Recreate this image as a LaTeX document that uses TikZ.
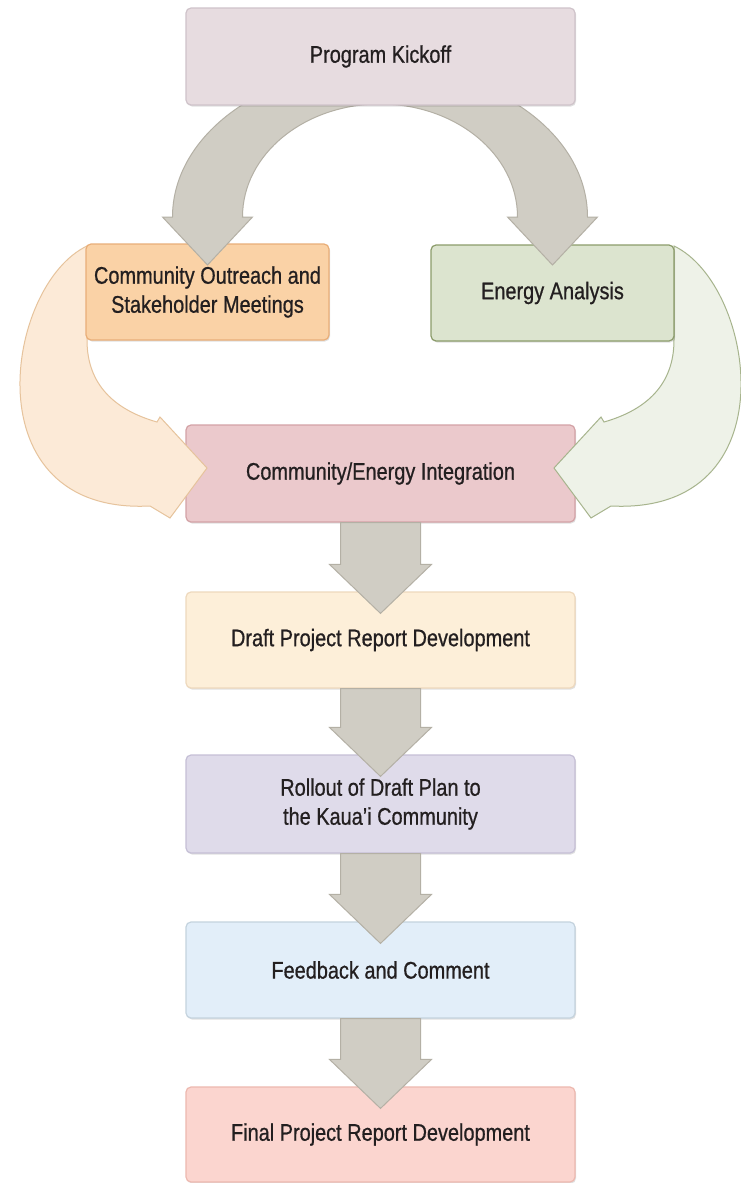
\documentclass[tikz,border=0pt]{standalone}
\usepackage{fontspec}
\setmainfont{Liberation Sans}[FakeStretch=0.83,FakeBold=0.7]
\usetikzlibrary{calc,shadows}
\pgfdeclarelayer{bg}
\pgfdeclarelayer{low}
\pgfdeclarelayer{sidel}
\pgfdeclarelayer{top}
\pgfsetlayers{bg,low,sidel,main,top}
\definecolor{txt}{HTML}{231F20}
\definecolor{kickF}{HTML}{E7DCE0}\definecolor{kickD}{HTML}{CFC3CA}
\definecolor{outF}{HTML}{FAD2A6}\definecolor{outD}{HTML}{E9AE78}
\definecolor{enF}{HTML}{DCE4CF}\definecolor{enD}{HTML}{8C9C6B}
\definecolor{intF}{HTML}{EBC9CC}\definecolor{intD}{HTML}{D3A2A6}
\definecolor{drF}{HTML}{FDEFD9}\definecolor{drD}{HTML}{EED9BD}
\definecolor{roF}{HTML}{DFDBEA}\definecolor{roD}{HTML}{C5BFD6}
\definecolor{fbF}{HTML}{E2EEF9}\definecolor{fbD}{HTML}{C4D3DE}
\definecolor{fiF}{HTML}{FBD5CF}\definecolor{fiD}{HTML}{EDB8AF}
\definecolor{grF}{HTML}{D0CDC4}\definecolor{grD}{HTML}{B4B0A5}
\definecolor{lsF}{HTML}{FCEAD7}\definecolor{lsD}{HTML}{E6C39C}
\definecolor{rsF}{HTML}{EEF2E8}\definecolor{rsD}{HTML}{A7B48D}
\tikzset{
  box/.style={rounded corners=5pt, line width=1.2pt, minimum width=389pt,
    minimum height=97pt, inner sep=0pt, align=center, text=txt,
    font=\fontsize{24}{29}\selectfont,
    drop shadow={shadow xshift=1pt, shadow yshift=-1.5pt, fill=black, opacity=.12}},
  smallbox/.style={box, minimum width=243pt, minimum height=96pt},
  garrow/.style={fill=grF, draw=grD, line width=1pt, line join=miter},
  lside/.style={fill=lsF, draw=lsD, line width=1pt, line join=miter},
  rside/.style={fill=rsF, draw=rsD, line width=1pt, line join=miter}
}
\newcommand\varrow[2]{%
  \draw[garrow] ($(#1.south)+(-40,0)$) -- ($(#2.north)+(-40,27)$)
    -- ($(#2.north)+(-51,27)$) -- ($(#2.north)+(0,-22)$)
    -- ($(#2.north)+(51,27)$) -- ($(#2.north)+(40,27)$)
    -- ($(#1.south)+(40,0)$) -- cycle;}
\begin{document}
\begin{tikzpicture}[x=1pt,y=1pt]
\useasboundingbox (0,-1183) rectangle (740,0);
\begin{pgfonlayer}{bg}
\fill[white] (0,-1183) rectangle (740,0);
\end{pgfonlayer}
\begin{pgfonlayer}{top}
\node[box, fill=kickF, draw=kickD] (kick) at (380.5,-56.5) {Program Kickoff};
\end{pgfonlayer}
\node[smallbox, fill=outF, draw=outD] (out) at (207.5,-292) {Community Outreach and\\Stakeholder Meetings};
\node[smallbox, fill=enF, draw=enD] (ener) at (552.5,-293) {Energy Analysis};
\begin{pgfonlayer}{low}
\node[box, fill=intF, draw=intD] (int) at (380.5,-473.5) {Community/Energy Integration};
\end{pgfonlayer}
\node[box, fill=drF, draw=drD, minimum height=96pt] (draft) at (380.5,-640) {Draft Project Report Development};
\node[box, fill=roF, draw=roD, minimum height=98pt] (roll) at (380.5,-804) {Rollout of Draft Plan to\\the Kaua’i Community};
\node[box, fill=fbF, draw=fbD, minimum height=96pt] (feed) at (380.5,-970) {Feedback and Comment};
\node[box, fill=fiF, draw=fiD, minimum height=95pt] (final) at (380.5,-1134.5) {Final Project Report Development};
% gray arc from kickoff to the two branches
\draw[garrow] (162.5,-217) -- (207.5,-265) -- (252.5,-217) -- (242.5,-217)
  arc[start angle=180, end angle=0, x radius=137.5pt, y radius=113pt]
  -- (507.5,-217) -- (552.5,-265) -- (597.5,-217) -- (587.5,-217)
  arc[start angle=0, end angle=180, x radius=207.5pt, y radius=150pt] -- cycle;
% side arrows into integration
\begin{pgfonlayer}{sidel}
\draw[lside] (87,-246) .. controls (5,-285) and (-30,-515) .. (150,-506)
  -- (170,-518) -- (207,-468) -- (160,-417) -- (157,-422)
  .. controls (115,-410) and (87,-385) .. (87,-340) -- cycle;
\draw[rside] (674,-246) .. controls (756,-285) and (791,-515) .. (611,-506)
  -- (591,-518) -- (554,-468) -- (601,-417) -- (604,-422)
  .. controls (646,-410) and (674,-385) .. (674,-340) -- cycle;
\end{pgfonlayer}
\varrow{int}{draft}
\varrow{draft}{roll}
\varrow{roll}{feed}
\varrow{feed}{final}
\end{tikzpicture}
\end{document}
